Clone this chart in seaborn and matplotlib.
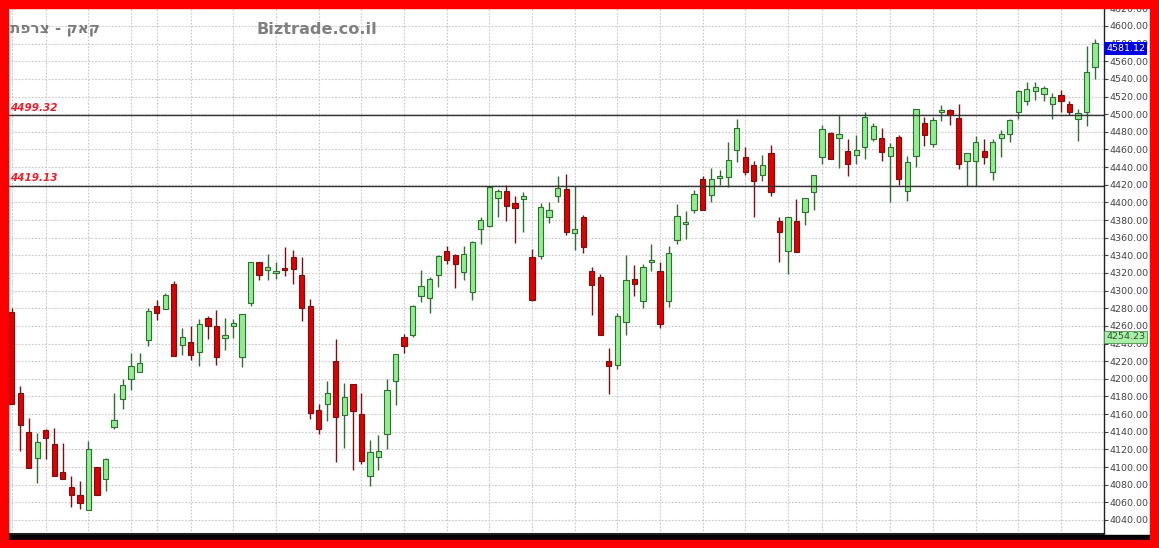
import matplotlib
matplotlib.use("Agg")
import numpy as np
import pandas as pd
import matplotlib.pyplot as plt
from matplotlib.patches import Rectangle
import seaborn as sns

# daily candles, CAC 40
opens = [4276, 4184, 4140, 4110, 4142, 4126, 4094, 4077, 4068, 4051,
         4100, 4087, 4145, 4177, 4200, 4208, 4244, 4283, 4279, 4307,
         4238, 4242, 4230, 4269, 4260, 4246, 4260, 4225, 4286, 4332,
         4323, 4320, 4326, 4338, 4318, 4283, 4165, 4171, 4220, 4159,
         4194, 4160, 4090, 4111, 4138, 4198, 4247, 4250, 4294, 4292,
         4318, 4345, 4340, 4321, 4298, 4370, 4373, 4405, 4413, 4399,
         4404, 4338, 4339, 4384, 4407, 4415, 4365, 4384, 4322, 4315,
         4220, 4216, 4264, 4313, 4288, 4332, 4322, 4288, 4357, 4375,
         4391, 4426, 4408, 4428, 4429, 4459, 4452, 4442, 4431, 4456,
         4379, 4345, 4379, 4389, 4412, 4451, 4479, 4473, 4458, 4454,
         4463, 4472, 4473, 4453, 4474, 4413, 4453, 4490, 4466, 4503,
         4505, 4496, 4447, 4447, 4458, 4435, 4473, 4478, 4503, 4515,
         4526, 4523, 4512, 4522, 4512, 4495, 4502, 4553]
highs = [4280, 4192, 4156, 4139, 4143, 4144, 4127, 4090, 4084, 4129,
         4100, 4110, 4184, 4200, 4229, 4229, 4280, 4289, 4297, 4311,
         4258, 4260, 4268, 4271, 4278, 4269, 4268, 4274, 4332, 4333,
         4341, 4333, 4350, 4346, 4338, 4291, 4171, 4198, 4245, 4195,
         4194, 4184, 4131, 4136, 4200, 4228, 4251, 4284, 4323, 4315,
         4340, 4351, 4341, 4351, 4356, 4384, 4419, 4415, 4420, 4407,
         4412, 4347, 4399, 4401, 4430, 4432, 4419, 4386, 4327, 4319,
         4235, 4275, 4340, 4329, 4330, 4353, 4332, 4351, 4398, 4390,
         4414, 4430, 4439, 4437, 4469, 4495, 4463, 4447, 4454, 4465,
         4383, 4384, 4404, 4405, 4431, 4488, 4480, 4499, 4472, 4476,
         4503, 4490, 4484, 4467, 4476, 4453, 4506, 4497, 4497, 4510,
         4506, 4512, 4456, 4475, 4472, 4472, 4482, 4494, 4527, 4536,
         4536, 4532, 4524, 4528, 4515, 4506, 4577, 4585]
lows = [4172, 4118, 4099, 4082, 4109, 4090, 4086, 4055, 4052, 4051,
        4068, 4073, 4143, 4166, 4187, 4208, 4237, 4267, 4279, 4226,
        4227, 4221, 4215, 4245, 4216, 4233, 4246, 4213, 4283, 4312,
        4312, 4313, 4317, 4307, 4266, 4154, 4137, 4152, 4106, 4122,
        4097, 4104, 4078, 4097, 4121, 4170, 4229, 4247, 4287, 4275,
        4304, 4330, 4303, 4312, 4289, 4353, 4372, 4383, 4379, 4354,
        4367, 4288, 4336, 4377, 4401, 4363, 4346, 4343, 4272, 4250,
        4183, 4211, 4250, 4294, 4280, 4322, 4258, 4282, 4353, 4359,
        4388, 4391, 4401, 4420, 4417, 4446, 4431, 4383, 4424, 4407,
        4333, 4319, 4344, 4374, 4391, 4444, 4449, 4439, 4430, 4443,
        4449, 4470, 4447, 4400, 4420, 4402, 4440, 4464, 4463, 4492,
        4488, 4438, 4419, 4419, 4444, 4425, 4451, 4468, 4495, 4510,
        4516, 4515, 4495, 4502, 4499, 4470, 4487, 4540]
closes = [4172, 4148, 4099, 4128, 4133, 4090, 4086, 4068, 4059, 4120,
          4068, 4109, 4153, 4193, 4215, 4218, 4277, 4275, 4295, 4226,
          4247, 4227, 4262, 4260, 4225, 4250, 4263, 4273, 4332, 4318,
          4327, 4322, 4323, 4324, 4280, 4161, 4143, 4184, 4157, 4179,
          4164, 4107, 4117, 4118, 4187, 4228, 4237, 4283, 4305, 4313,
          4339, 4335, 4330, 4341, 4355, 4380, 4418, 4413, 4396, 4394,
          4407, 4289, 4395, 4391, 4416, 4366, 4370, 4349, 4306, 4250,
          4215, 4271, 4312, 4308, 4327, 4335, 4262, 4343, 4385, 4378,
          4410, 4391, 4426, 4430, 4448, 4484, 4434, 4424, 4442, 4412,
          4366, 4384, 4344, 4405, 4431, 4483, 4449, 4478, 4443, 4459,
          4497, 4487, 4457, 4463, 4427, 4446, 4506, 4476, 4493, 4505,
          4499, 4443, 4456, 4469, 4452, 4468, 4478, 4493, 4526, 4529,
          4531, 4530, 4519, 4515, 4503, 4501, 4548, 4581.12]

# candle index of each date grid line
date_grid = [0, 4, 9, 14, 17, 21, 26, 31, 36, 41, 46, 51, 56, 61, 66, 71,
             76, 81, 86, 91, 95, 99, 103, 108, 113, 118, 123]
price_ticks = list(range(4040, 4621, 20))
levels = [4499.32, 4419.13]
last_price = 4581.12
side_price = 4254.23
title_he = "קאק - צרפת"
site = "Biztrade.co.il"

df = pd.DataFrame({"open": opens, "high": highs, "low": lows, "close": closes})
df["idx"] = np.arange(len(df))
df["up"] = df["close"] >= df["open"]
df["body_lo"] = df[["open", "close"]].min(axis=1)
df["body_h"] = (df["close"] - df["open"]).abs().clip(lower=1.2)

sns.set_style("white")
plt.rcParams['font.family'] = ['DejaVu Sans']

W, H = 1159, 548
fig = plt.figure(figsize=(W / 100, H / 100), dpi=100)
fig.patch.set_facecolor("white")
ax = fig.add_axes([8 / W, 14 / H, (1104 - 8) / W, (534 - 8) / H])

# grid
for v in price_ticks:
    ax.axhline(v, color="#c8c8c8", lw=0.8, ls=(0, (1.5, 1.5)), zorder=0)
for g in date_grid:
    ax.axvline(g, color="#c8c8c8", lw=0.8, ls=(0, (1.5, 1.5)), zorder=0)

# wicks
up = df[df["up"]]
dn = df[~df["up"]]
ax.vlines(up["idx"], up["low"], up["high"], colors="#2f6f2f", lw=1.0, zorder=2)
ax.vlines(dn["idx"], dn["low"], dn["high"], colors="#7a1010", lw=1.0, zorder=2)

# bodies
ax.bar(up["idx"], up["body_h"], bottom=up["body_lo"], width=0.62,
       color="#90ee90", edgecolor="#2f6f2f", linewidth=0.8, zorder=3)
ax.bar(dn["idx"], dn["body_h"], bottom=dn["body_lo"], width=0.62,
       color="#e00000", edgecolor="#7a1010", linewidth=0.8, zorder=3)

# support / resistance levels
for lv in levels:
    ax.axhline(lv, color="#333333", lw=1.0, zorder=4)
    ax.annotate(f"{lv:.2f}", xy=(0.0, lv), xycoords=("axes fraction", "data"),
                xytext=(1.5, 1.5), textcoords="offset points", ha="left", va="bottom",
                color="#e8202a", fontsize=7.5, fontweight="bold", fontstyle="italic",
                zorder=5)

ax.set_xlim(-0.43, 128.05)
ax.set_ylim(4024.1, 4620.4)
ax.set_xticks([])
ax.yaxis.tick_right()
ax.set_yticks(price_ticks)
ax.set_yticklabels([f"{v:.2f}" for v in price_ticks])
ax.tick_params(axis="y", labelsize=6.8, colors="#444444", length=3, width=0.8, pad=1)
for s in ["left", "top"]:
    ax.spines[s].set_visible(False)
ax.spines["right"].set_color("#222222")
ax.spines["right"].set_linewidth(1.0)
ax.spines["bottom"].set_color("#222222")
ax.spines["bottom"].set_linewidth(1.5)

# price flags on the right axis (they cover the tick label under them, as in the original)
ax.annotate(f"{last_price:.2f}", xy=(1.0, last_price), xycoords=("axes fraction", "data"),
            xytext=(1.5, -1), textcoords="offset points", ha="left", va="top",
            color="white", fontsize=6.8, annotation_clip=False, zorder=6,
            bbox=dict(boxstyle="square,pad=0.2", fc="#0000e0", ec="none"))
ax.annotate(f"{side_price:.2f}", xy=(1.0, side_price), xycoords=("axes fraction", "data"),
            xytext=(1.5, -1), textcoords="offset points", ha="left", va="top",
            color="#2f4f2f", fontsize=6.8, annotation_clip=False, zorder=6,
            bbox=dict(boxstyle="square,pad=0.2", fc="#a8f0a8", ec="#4f8f4f", lw=0.6))

# header texts (matplotlib has no bidi, so Hebrew goes in visual order)
fig.text(10 / W, 1 - 29 / H, title_he[::-1], ha="left", va="center",
         fontsize=11, fontweight="bold", color="#7c7c7c")
fig.text(256 / W, 1 - 29 / H, site, ha="left", va="center",
         fontsize=11.6, fontweight="bold", color="#808080")

# frame
fig.add_artist(Rectangle((8 / W, 8 / H), (1150 - 8) / W, 5 / H,
                         transform=fig.transFigure, color="black", zorder=20))
for r in [(0, 0, 8 / W, 1), (0, 1 - 8 / H, 1, 8 / H),
          (1150 / W, 0, 9 / W, 1), (0, 0, 1, 8 / H)]:
    fig.add_artist(Rectangle((r[0], r[1]), r[2], r[3],
                             transform=fig.transFigure, color="#ff0000", zorder=21))

fig.savefig("out.png", dpi=100)
